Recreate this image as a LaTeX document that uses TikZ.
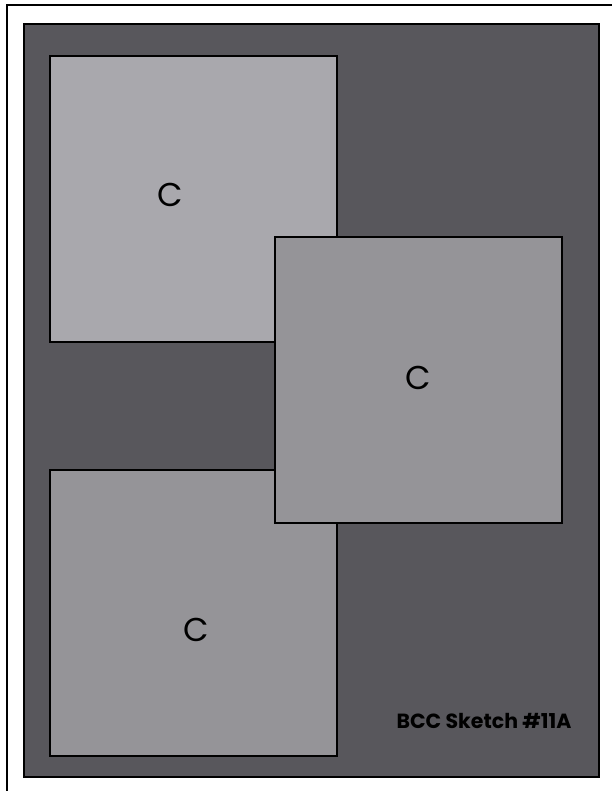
\documentclass[tikz,border=0pt]{standalone}
\usepackage{fontspec}
\setmainfont{Poppins}
\definecolor{panel}{HTML}{58575C}
\definecolor{boxlight}{HTML}{A9A8AD}
\definecolor{boxmid}{HTML}{959498}
\begin{document}
\begin{tikzpicture}[x=1pt,y=-1pt,
  card/.style={draw=black,line width=2pt},
  lbl/.style={font=\fontsize{33}{33}\selectfont,text=black}]
\useasboundingbox (0,0) rectangle (611,791);
\fill[white] (0,0) rectangle (611,791);
\draw[line width=1.5pt] (7,800) -- (7,5) -- (620,5);
\draw[card,fill=panel] (24,24) rectangle (599,777);
\draw[card,fill=boxlight] (50,56) rectangle (337,342);
\draw[card,fill=boxmid] (50,470) rectangle (337,756);
\draw[card,fill=boxmid] (275,237) rectangle (562,523);
\node[lbl] (c1) at (170,195) {C};
\node[lbl] (c2) at (418,378) {C};
\node[lbl] (c3) at (196,630) {C};
\node[font=\fontsize{20.5}{20.5}\selectfont\bfseries,text=black] (t) at (484,721) {BCC Sketch \#11A};
\end{tikzpicture}
\end{document}
